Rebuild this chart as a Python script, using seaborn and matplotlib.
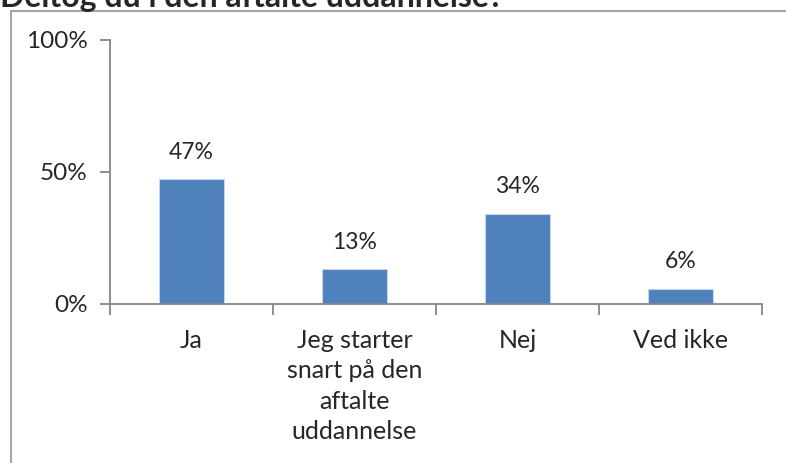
import matplotlib
matplotlib.use("Agg")
import matplotlib.pyplot as plt
import seaborn as sns
import pandas as pd
from matplotlib.lines import Line2D

# data
kategorier = ["Ja", "Jeg starter\nsnart på den\naftalte\nuddannelse", "Nej", "Ved ikke"]
andele = [47, 13, 34, 5.5]
etiketter = ["47%", "13%", "34%", "6%"]
y_ticks = [0, 50, 100]
y_ticklabels = ["0%", "50%", "100%"]
titel = "Deltog du i den aftalte uddannelse?"

df = pd.DataFrame({"kategori": kategorier, "andel": andele})

sns.set_style("white")
plt.rcParams["font.family"] = ["Lato", "DejaVu Sans"]

W, H = 786, 463
fig = plt.figure(figsize=(W / 100, H / 100), dpi=100)
ax = fig.add_axes([110 / W, 1 - 303.5 / H, (762 - 110) / W, (303.5 - 39.5) / H])

sns.barplot(data=df, x="kategori", y="andel", color="#4F81BD", width=0.4,
            edgecolor="#C6D5EA", linewidth=0.8, ax=ax, saturation=1)

ax.set_ylim(0, 100)
ax.set_xlim(-0.5, 3.5)
ax.set_yticks(y_ticks)
ax.set_yticklabels(y_ticklabels)
ax.set_xlabel("")
ax.set_ylabel("")

for side in ["top", "right"]:
    ax.spines[side].set_visible(False)
for side in ["left", "bottom"]:
    ax.spines[side].set_color("#868686")
    ax.spines[side].set_linewidth(1.3)

ax.tick_params(axis="y", direction="out", length=7, width=1.3, color="#868686",
               labelsize=17.5, pad=9, left=True)
ax.tick_params(axis="x", length=0, labelsize=18, pad=18)
ax.set_xticks(range(len(kategorier)))
ax.set_xticklabels(kategorier, linespacing=1.4)

# x ticks between categories
ax.set_xticks([-0.5, 0.5, 1.5, 2.5, 3.5], minor=True)
ax.tick_params(axis="x", which="minor", direction="out", length=8, width=1.3,
               color="#868686", bottom=True)

for container in ax.containers:
    ax.bar_label(container, labels=etiketter, padding=12, fontsize=16.5)

# chart frame
fig.add_artist(Line2D([10.5 / W, 10.5 / W], [1 - 11 / H, 0], color="#A6A6A6", lw=1.5))
fig.add_artist(Line2D([10.5 / W, 1], [1 - 11 / H, 1 - 11 / H], color="#A6A6A6", lw=1.5))

fig.text(0.0, 1 - 7 / H, titel, fontsize=23, fontweight="bold", ha="left", va="baseline")

fig.savefig("out.png", dpi=100, facecolor="white")
